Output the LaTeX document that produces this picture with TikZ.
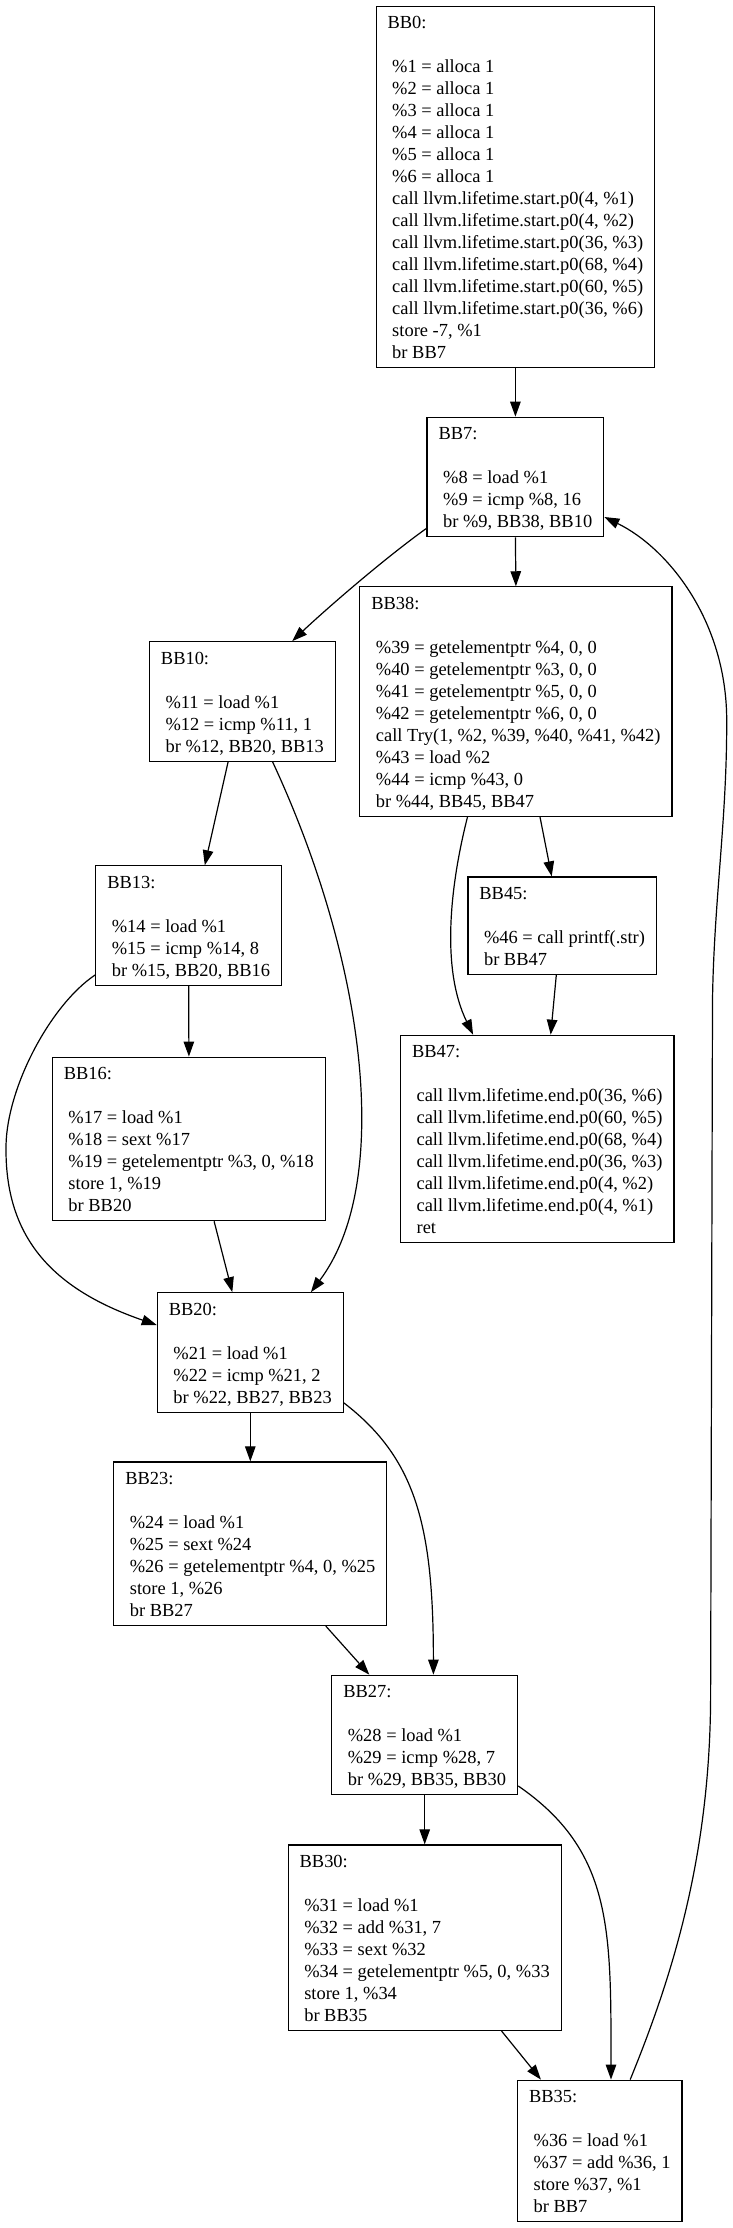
\documentclass[tikz,border=0pt]{standalone}
\usepackage{fontspec}
\setmainfont{Liberation Serif}
\usetikzlibrary{arrows.meta}
\newcommand{\bbfont}{\fontsize{18.44pt}{22pt}\selectfont}
\newcommand{\bbs}{\rule[-4pt]{0pt}{21.5pt}}
\tikzset{
  block/.style={ % image of a basic block
    draw, rectangle, align=left, line width=1.2pt,
    inner xsep=11.5pt, inner ysep=5pt, font=\bbfont, text=black
  },
  jump/.style={ % image of a control-flow edge
    ->, line width=1.2pt
  }
}
\begin{document}
\begin{tikzpicture}[x=1pt, y=-1pt, >={Triangle[length=15pt,width=10.5pt]}]
  \useasboundingbox (0,0) rectangle (733,2228);

  \node[block] (bb0) at (515.4,187) {\bbs BB0:\\[22pt]
    ~\%1 = alloca 1\\
    ~\%2 = alloca 1\\
    ~\%3 = alloca 1\\
    ~\%4 = alloca 1\\
    ~\%5 = alloca 1\\
    ~\%6 = alloca 1\\
    ~call llvm.lifetime.start.p0(4, \%1)\\
    ~call llvm.lifetime.start.p0(4, \%2)\\
    ~call llvm.lifetime.start.p0(36, \%3)\\
    ~call llvm.lifetime.start.p0(68, \%4)\\
    ~call llvm.lifetime.start.p0(60, \%5)\\
    ~call llvm.lifetime.start.p0(36, \%6)\\
    ~store -7, \%1\\
    ~br BB7\bbs};
  \node[block] (bb7) at (515.4,477) {\bbs BB7:\\[22pt]
    ~\%8 = load \%1\\
    ~\%9 = icmp \%8, 16\\
    ~br \%9, BB38, BB10\bbs};
  \node[block] (bb38) at (515.9,701.6) {\bbs BB38:\\[22pt]
    ~\%39 = getelementptr \%4, 0, 0\\
    ~\%40 = getelementptr \%3, 0, 0\\
    ~\%41 = getelementptr \%5, 0, 0\\
    ~\%42 = getelementptr \%6, 0, 0\\
    ~call Try(1, \%2, \%39, \%40, \%41, \%42)\\
    ~\%43 = load \%2\\
    ~\%44 = icmp \%43, 0\\
    ~br \%44, BB45, BB47\bbs};
  \node[block] (bb10) at (242.4,701.5) {\bbs BB10:\\[22pt]
    ~\%11 = load \%1\\
    ~\%12 = icmp \%11, 1\\
    ~br \%12, BB20, BB13\bbs};
  \node[block] (bb13) at (188.7,925.6) {\bbs BB13:\\[22pt]
    ~\%14 = load \%1\\
    ~\%15 = icmp \%14, 8\\
    ~br \%15, BB20, BB16\bbs};
  \node[block] (bb45) at (562.2,925.7) {\bbs BB45:\\[22pt]
    ~\%46 = call printf(.str)\\
    ~br BB47\bbs};
  \node[block] (bb16) at (188.9,1138.9) {\bbs BB16:\\[22pt]
    ~\%17 = load \%1\\
    ~\%18 = sext \%17\\
    ~\%19 = getelementptr \%3, 0, \%18\\
    ~store 1, \%19\\
    ~br BB20\bbs};
  \node[block] (bb47) at (537.2,1139) {\bbs BB47:\\[22pt]
    ~call llvm.lifetime.end.p0(36, \%6)\\
    ~call llvm.lifetime.end.p0(60, \%5)\\
    ~call llvm.lifetime.end.p0(68, \%4)\\
    ~call llvm.lifetime.end.p0(36, \%3)\\
    ~call llvm.lifetime.end.p0(4, \%2)\\
    ~call llvm.lifetime.end.p0(4, \%1)\\
    ~ret\bbs};
  \node[block] (bb20) at (250.3,1352.5) {\bbs BB20:\\[22pt]
    ~\%21 = load \%1\\
    ~\%22 = icmp \%21, 2\\
    ~br \%22, BB27, BB23\bbs};
  \node[block] (bb23) at (250.3,1543.7) {\bbs BB23:\\[22pt]
    ~\%24 = load \%1\\
    ~\%25 = sext \%24\\
    ~\%26 = getelementptr \%4, 0, \%25\\
    ~store 1, \%26\\
    ~br BB27\bbs};
  \node[block] (bb27) at (424.7,1735) {\bbs BB27:\\[22pt]
    ~\%28 = load \%1\\
    ~\%29 = icmp \%28, 7\\
    ~br \%29, BB35, BB30\bbs};
  \node[block] (bb30) at (424.7,1937.7) {\bbs BB30:\\[22pt]
    ~\%31 = load \%1\\
    ~\%32 = add \%31, 7\\
    ~\%33 = sext \%32\\
    ~\%34 = getelementptr \%5, 0, \%33\\
    ~store 1, \%34\\
    ~br BB35\bbs};
  \node[block] (bb35) at (599.8,2150.9) {\bbs BB35:\\[22pt]
    ~\%36 = load \%1\\
    ~\%37 = add \%36, 1\\
    ~store \%37, \%1\\
    ~br BB7\bbs};

  \draw[jump] (bb0.south) -- (bb7.north);
  \draw[jump] (bb7.south) -- (bb38.north);
  \draw[jump] ([yshift=9pt]bb7.south west) .. controls +(-48.6,35) and +(26.3,-25) .. ([xshift=49.8pt]bb10.north);
  \draw[jump] ([xshift=24.1pt]bb38.south) -- ([xshift=-10.5pt]bb45.north);
  \draw[jump] ([xshift=-48.4pt]bb38.south) .. controls +(-17.8,70) and +(-31.9,-65) .. ([xshift=-64.1pt]bb47.north);
  \draw[jump] ([xshift=-5.9pt]bb45.south) -- ([xshift=13.5pt]bb47.north);
  \draw[jump] ([xshift=-14.3pt]bb10.south) -- ([xshift=16.1pt]bb13.north);
  \draw[jump] ([xshift=30.2pt]bb10.south) .. controls +(93,200) and +(82.5,-110) .. ([xshift=60.6pt]bb20.north);
  \draw[jump] (bb13.south) -- (bb16.north);
  \draw[jump] ([yshift=11pt]bb13.south west) .. controls +(-45,30) and +(-1,-60) .. (6,1150)
    .. controls +(0,90) and +(-101.7,-35) .. ([yshift=27.5pt]bb20.west);
  \draw[jump] ([xshift=25.2pt]bb16.south) -- ([xshift=-18pt]bb20.north);
  \draw[jump] (bb20.south) -- (bb23.north);
  \draw[jump] ([yshift=10pt]bb20.south east) .. controls +(71.5,55) and +(0,-150) .. ([xshift=8.7pt]bb27.north);
  \draw[jump] ([xshift=75.5pt]bb23.south) -- ([xshift=-55.4pt]bb27.north);
  \draw[jump] (bb27.south) -- (bb30.north);
  \draw[jump] ([yshift=9.4pt]bb27.south east) .. controls +(94.3,65) and +(0,-150) .. ([xshift=11.2pt]bb35.north);
  \draw[jump] ([xshift=76.9pt]bb30.south) -- ([xshift=-58.9pt]bb35.north);
  \draw[jump] ([xshift=30.4pt]bb35.north) .. controls +(40.8,-99.8) and +(-1.1,160) .. (710.6,1700)
    -- (712.5,1000) .. controls +(1.5,-100) and +(0.3,100) .. (726.7,720)
    .. controls +(-0.2,-100) and +(63,30.7) .. ([yshift=-40pt]bb7.east);
\end{tikzpicture}
\end{document}
